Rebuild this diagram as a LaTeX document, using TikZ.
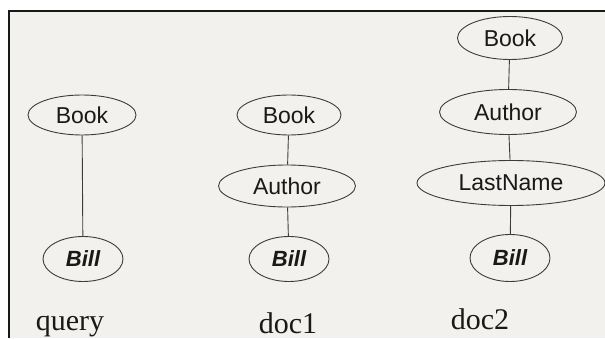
\documentclass[tikz,border=0pt]{standalone}
\usepackage{fontspec}
\setmainfont{Liberation Serif}
\setsansfont{Liberation Sans}
\usetikzlibrary{positioning, shapes.geometric}
\definecolor{PaperGrey}{RGB}{243, 241, 237}
\definecolor{InkDark}{RGB}{60, 60, 60}
\definecolor{FrameDark}{RGB}{25, 25, 25}

\begin{document}
\begin{tikzpicture}[x=1pt, y=1pt,
    tag/.style={ellipse, draw=InkDark, line width=0.9pt, inner sep=0pt, text=black!90,
        font=\sffamily\fontsize{23}{25}\selectfont},
    leaf/.style={tag, font=\sffamily\bfseries\itshape\fontsize{22}{24}\selectfont},
    link/.style={draw=InkDark, line width=0.9pt},
    caption/.style={anchor=base, font=\fontsize{30}{32}\selectfont, text=black!90}]
            \useasboundingbox (0,0) rectangle (605,338);
            \fill[PaperGrey] (9,0) rectangle (605,327);
            \draw[FrameDark, line width=2pt] (9,0) -- (9,327) -- (605,327);
            % query
            \node[tag, minimum width=108, minimum height=40] (qbook) at (82,223) {Book};
            \node[leaf, minimum width=80, minimum height=45] (qbill) at (83,79) {Bill};
            \draw[link] (qbook) -- (qbill);
            \node[caption] (qlabel) at (70,8) {query};
            % doc1
            \node[tag, minimum width=104, minimum height=40] (dabook) at (289,223) {Book};
            \node[tag, minimum width=137, minimum height=42] (daauthor) at (287,152) {Author};
            \node[leaf, minimum width=80, minimum height=45] (dabill) at (289,79) {Bill};
            \draw[link] (dabook) -- (daauthor);
            \draw[link] (daauthor) -- (dabill);
            \node[caption] (dalabel) at (288,5) {doc1};
            % doc2
            \node[tag, minimum width=105, minimum height=43] (dbbook) at (510,300) {Book};
            \node[tag, minimum width=137, minimum height=45] (dbauthor) at (508,226) {Author};
            \node[tag, minimum width=188, minimum height=45] (dblast) at (511,155) {LastName};
            \node[leaf, minimum width=80, minimum height=47] (dbbill) at (510,80) {Bill};
            \draw[link] (dbbook) -- (dbauthor);
            \draw[link] (dbauthor) -- (dblast);
            \draw[link] (dblast) -- (dbbill);
            \node[caption] (dblabel) at (480,9) {doc2};
        \end{tikzpicture}
\end{document}
